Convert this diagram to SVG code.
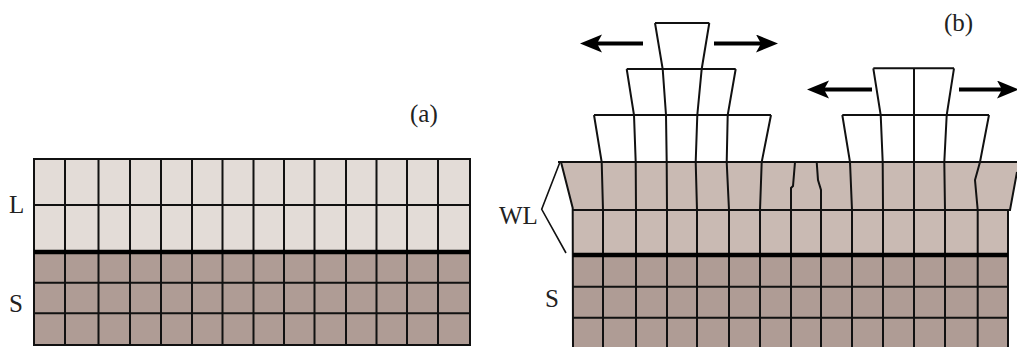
<svg xmlns="http://www.w3.org/2000/svg" width="1017" height="347" viewBox="0 0 1017 347">
  <style>
    .grid { fill: none; stroke: #111; stroke-width: 2; stroke-linejoin: miter; }
    .iface { fill: none; stroke: #000; stroke-width: 4.5; }
    .thin { fill: none; stroke: #111; stroke-width: 1.6; }
    .arrow { stroke: #000; stroke-width: 4; marker-end: url(#head); }
    .label { font-family: "Liberation Serif", "Times New Roman", serif; font-size: 25px; fill: #222; }
    .light { fill: #E3DCD7; }
    .wl { fill: #C9BAB3; }
    .sub { fill: #AF9C95; }
  </style>
  <defs>
    <marker id="head" markerUnits="userSpaceOnUse" markerWidth="24" markerHeight="20" refX="8" refY="9" orient="auto">
      <path d="M22,9 L0,0 L5,9 L0,18 Z" fill="#000"/>
    </marker>
  </defs>
  <rect width="1017" height="347" fill="#fff"/>

  <!-- (a) flat layer L on substrate S -->
  <g id="panel-a">
    <g id="layer-L">
      <rect class="light" x="34" y="159" width="436" height="93"/>
      <path class="grid" d="M34,205 H470"/>
    </g>
    <g id="substrate-a">
      <rect class="sub" x="34" y="252" width="436" height="93"/>
      <path class="grid" d="M34,282.7 H470 M34,313.3 H470"/>
    </g>
    <path class="grid" d="M65,159 V345 M98.5,159 V345 M130,159 V345 M161,159 V345 M192,159 V345 M222.5,159 V345 M253.5,159 V345 M284,159 V345 M314.5,159 V345 M346,159 V345 M376.5,159 V345 M407,159 V345 M438,159 V345"/>
    <rect class="grid" x="34" y="159" width="436" height="186"/>
    <path class="iface" d="M34,252 H470"/>
    <text class="label" x="9" y="213">L</text>
    <text class="label" x="9" y="312">S</text>
    <text class="label" x="410" y="122">(a)</text>
  </g>

  <!-- (b) wetting layer WL with islands on substrate S -->
  <g id="panel-b">
    <g id="substrate-b">
      <rect class="sub" x="573" y="255" width="435" height="92"/>
      <path class="grid" d="M573,286.7 H1008 M573,317.7 H1008"/>
    </g>
    <g id="wetting-layer">
      <polygon class="wl" points="561,162 1017,162 1017,172 1010,210 1008,210 1008,255 573,255 573,210 572.7,208"/>
      <path class="grid" d="M558,162 H1017 M573,210 H1010"/>
      <!-- outer edges -->
      <path class="grid" d="M561,162 L572.7,208 L573,347 M1017,172 L1010,210 L1008,210 L1008,347"/>
      <!-- columns of the lower row and the substrate -->
      <path class="grid" d="M603,210 V347 M636,210 V347 M667,210 V347 M697,210 V347 M729,210 V347 M760,210 V347 M791,210 V347 M821,210 V347 M852,210 V347 M883,210 V347 M914,210 V347 M945,210 V347 M977.7,210 V347"/>
      <!-- strained columns of the top row -->
      <path class="grid" d="M795,162 L793,186 L791,188 L791,210 M816.7,162 L818,180 L821,190 L821,210"/>
    </g>
    <g id="island-1">
      <path class="grid" d="M655,23 H709.3 M626.7,69 H735.7 M594,115 H771"/>
      <path class="grid" d="M655,23 L662.7,69 L666,115 L666.7,162 L667,210"/>
      <path class="grid" d="M709.3,23 L701.7,69 L697.3,115 L695.7,162 L697,210"/>
      <path class="grid" d="M626.7,69 L634,115 L635.7,162 L636,210"/>
      <path class="grid" d="M735.7,69 L727.7,115 L726.7,162 L729,210"/>
      <path class="grid" d="M594,115 L601.7,162 L603,210"/>
      <path class="grid" d="M771,115 L761.7,162 L760,210"/>
    </g>
    <g id="island-2">
      <path class="grid" d="M873.3,68.3 H954 M842.3,115 H989"/>
      <path class="grid" d="M873.3,68.3 L880.7,115 L882.7,162 L883,210"/>
      <path class="grid" d="M914,68.3 V210"/>
      <path class="grid" d="M954,68.3 L946.7,115 L944.3,162 L945,210"/>
      <path class="grid" d="M842.3,115 L850,162 L852,210"/>
      <path class="grid" d="M989,115 L980,162 L975,180 L977.7,210"/>
    </g>
    <path class="iface" d="M573,255 H1008"/>
    <text class="label" x="499" y="224">WL</text>
    <text class="label" x="545" y="307">S</text>
    <text class="label" x="944" y="31">(b)</text>
  </g>

  <g id="connectors">
    <path class="thin" d="M560,162 L541.7,209.3 L566,253"/>
    <line class="arrow" x1="643" y1="43.5" x2="594" y2="43.5"/>
    <line class="arrow" x1="714" y1="43.5" x2="764" y2="43.5"/>
    <line class="arrow" x1="872" y1="89.5" x2="821" y2="89.5"/>
    <line class="arrow" x1="959" y1="89.5" x2="1005" y2="89.5"/>
  </g>
</svg>
